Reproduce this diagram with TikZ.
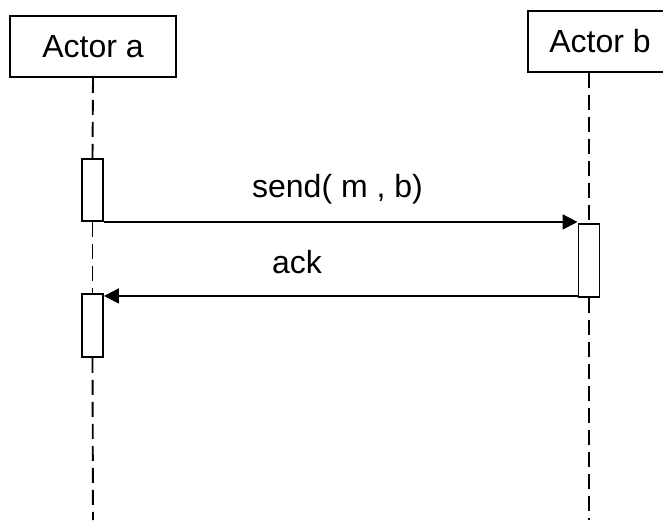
\documentclass[tikz,border=0pt]{standalone}
\usepackage{fontspec}
\setmainfont{Liberation Sans}
\usetikzlibrary{arrows.meta,calc}
\begin{document}
\begin{tikzpicture}[x=1pt,y=-1pt,line width=1.9pt,
  actor/.style={draw,inner sep=0pt,font=\fontsize{32}{38}\selectfont},
  activation/.style={draw,fill=white,inner sep=0pt,minimum width=21pt},
  lifeline/.style={dash pattern=on 15pt off 7pt},
  msg/.style={-{Triangle[length=15pt,width=15pt]}},
  lbl/.style={inner sep=0pt,font=\fontsize{32}{38}\selectfont}]
\useasboundingbox (0,0) rectangle (663,520);
\node[actor,minimum width=166pt,minimum height=61pt] (A) at (93,46.5) {Actor a};
\node[actor,minimum width=144pt,minimum height=61pt] (B) at (600,41.5) {Actor b};
\node[activation,minimum height=62pt] (a1) at (92.5,190) {};
\node[activation,minimum height=73pt] (b1) at (589,260.5) {};
\node[activation,minimum height=63pt] (a2) at (92.5,325.5) {};
\coordinate (endA) at (93,520);
\coordinate (endB) at (589,520);
\draw[lifeline] (A.south) -- (a1.north);
\draw[lifeline] (a1.south) -- (a2.north);
\draw[lifeline] (a2.south) -- (endA);
\draw[lifeline] (b1.north |- B.south) -- (b1.north);
\draw[lifeline] (b1.south) -- (endB);
\draw[msg] (a1.south east) -- (a1.south east -| b1.west);
\draw[msg] ([yshift=2pt]b1.south west) -- ([yshift=2pt]b1.south west -| a2.east);
\node[lbl] (l1) at (337.5,189) {send( m , b)};
\node[lbl] (l2) at (297,262) {ack};
\end{tikzpicture}
\end{document}
